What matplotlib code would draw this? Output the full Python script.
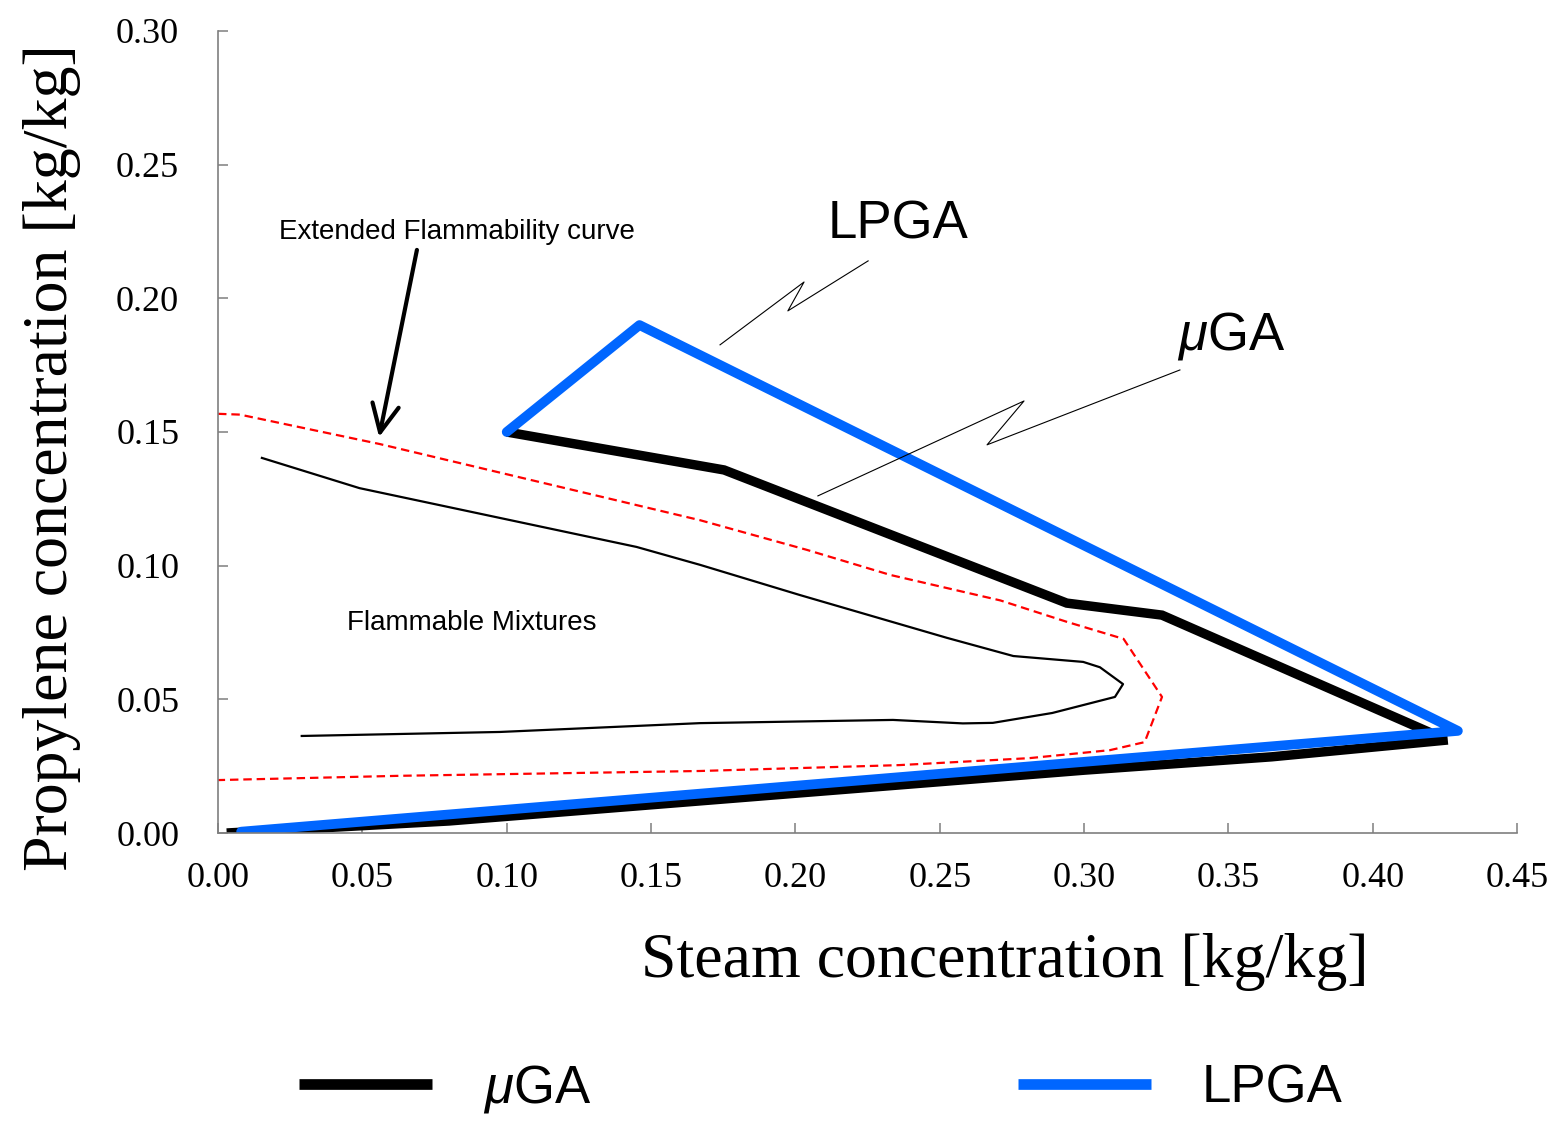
import matplotlib
matplotlib.use("Agg")
import matplotlib.pyplot as plt
from matplotlib.lines import Line2D
from matplotlib.ticker import FormatStrFormatter, MultipleLocator

plt.rcParams["mathtext.fontset"] = "custom"
plt.rcParams["mathtext.it"] = "Liberation Sans:italic"
plt.rcParams["mathtext.rm"] = "Liberation Sans"

SERIF = "Liberation Serif"
SANS = "Liberation Sans"

BLUE = "#0066ff"
AXIS_GREY = "#7f7f7f"

# LPGA optimised envelope (steam, propylene) in kg/kg
lpga_x = [0.008, 0.4295, 0.146, 0.100]
lpga_y = [0.0005, 0.0382, 0.190, 0.150]

# muGA envelope, upper and lower branches
mu_upper_x = [0.100, 0.1753, 0.294, 0.327, 0.420]
mu_upper_y = [0.150, 0.1358, 0.086, 0.0815, 0.0375]
mu_lower_x = [0.003, 0.080, 0.300, 0.365, 0.426]
mu_lower_y = [0.000, 0.0045, 0.0235, 0.0285, 0.0348]

# flammability limit curve
flam_x = [0.0152, 0.049, 0.145, 0.167, 0.2016, 0.2525, 0.2755, 0.2997, 0.3055,
          0.3135, 0.3107, 0.289, 0.2684, 0.258, 0.2338, 0.167, 0.0977, 0.029]
flam_y = [0.1403, 0.129, 0.107, 0.1003, 0.089, 0.073, 0.0662, 0.064, 0.062,
          0.0557, 0.0509, 0.0449, 0.0412, 0.041, 0.0423, 0.0411, 0.0378, 0.0363]

# extended flammability curve
ext_x = [0.0, 0.0076, 0.056, 0.167, 0.204, 0.233, 0.271, 0.294, 0.3137,
         0.327, 0.321, 0.309, 0.281, 0.236, 0.167, 0.063, 0.0]
ext_y = [0.1568, 0.1565, 0.1455, 0.117, 0.1059, 0.0965, 0.087, 0.079, 0.0726,
         0.0509, 0.034, 0.031, 0.028, 0.0254, 0.0232, 0.0214, 0.0198]

# zig-zag leader lines for the curve labels
lpga_lead_x = [0.2252, 0.1974, 0.2030, 0.1739]
lpga_lead_y = [0.2140, 0.1953, 0.2061, 0.1826]
mu_lead_x = [0.3332, 0.2664, 0.2792, 0.2078]
mu_lead_y = [0.1732, 0.1452, 0.1616, 0.1261]

fig = plt.figure(figsize=(15.64, 11.26), dpi=100)
ax = fig.add_axes([0.1394, 0.2602, 0.8306, 0.7123])

ax.plot(ext_x, ext_y, color="red", lw=1.6, dashes=(3.8, 2.2))
ax.plot(flam_x, flam_y, color="black", lw=1.6)
ax.plot(mu_upper_x, mu_upper_y, color="black", lw=6.8, solid_capstyle="butt",
        solid_joinstyle="miter")
ax.plot(mu_lower_x, mu_lower_y, color="black", lw=6.8, solid_capstyle="butt")
ax.plot(lpga_x, lpga_y, color=BLUE, lw=7, solid_capstyle="round",
        solid_joinstyle="round")

ax.plot(lpga_lead_x, lpga_lead_y, color="black", lw=0.8)
ax.plot(mu_lead_x, mu_lead_y, color="black", lw=0.8)

ax.text(0.2113, 0.2222, "LPGA", fontsize=38, family=SANS, ha="left", va="baseline")
ax.text(0.3322, 0.1807, r"$\mu$GA", fontsize=38, family=SANS, ha="left", va="baseline")

ax.text(0.0211, 0.2222, "Extended Flammability curve", fontsize=20, family=SANS,
        ha="left", va="baseline")
ax.annotate("", xy=(0.0558, 0.1481), xytext=(0.0689, 0.2181),
            arrowprops=dict(arrowstyle="->,head_length=1.0,head_width=0.48",
                            mutation_scale=20, lw=3, color="black",
                            shrinkA=0, shrinkB=0))
ax.text(0.0447, 0.0759, "Flammable Mixtures", fontsize=20, family=SANS,
        ha="left", va="baseline")

ax.set_xlim(0, 0.45)
ax.set_ylim(0, 0.30)
ax.xaxis.set_major_locator(MultipleLocator(0.05))
ax.yaxis.set_major_locator(MultipleLocator(0.05))
ax.xaxis.set_major_formatter(FormatStrFormatter("%.2f"))
ax.yaxis.set_major_formatter(FormatStrFormatter("%.2f"))

for side in ("top", "right"):
    ax.spines[side].set_visible(False)
for side in ("left", "bottom"):
    ax.spines[side].set_color(AXIS_GREY)
    ax.spines[side].set_linewidth(1.2)

ax.tick_params(axis="both", direction="in", length=7, width=1.1, color=AXIS_GREY,
               labelsize=26)
ax.tick_params(axis="y", pad=28)
ax.tick_params(axis="x", pad=21)
for lbl in ax.get_xticklabels() + ax.get_yticklabels():
    lbl.set_family(SERIF)

ax.set_xlabel("Steam concentration [kg/kg]", fontsize=46, family=SERIF)
ax.set_ylabel("Propylene concentration [kg/kg]", fontsize=46, family=SERIF)
ax.xaxis.set_label_coords(0.606, -0.125)
ax.yaxis.set_label_coords(-0.1055, 0.4676)

handles = [Line2D([], [], color="black", lw=7.7, solid_capstyle="butt"),
           Line2D([], [], color=BLUE, lw=7.7, solid_capstyle="butt")]
fig.legend(handles, [r"$\mu$GA", "LPGA"], loc="center",
           bbox_to_anchor=(0.5248, 0.0325), ncol=2, frameon=False,
           prop={"family": SANS, "size": 38}, handlelength=2.52,
           handletextpad=0.95, columnspacing=8.1, borderpad=0)

fig.savefig("out.png", dpi=100)
